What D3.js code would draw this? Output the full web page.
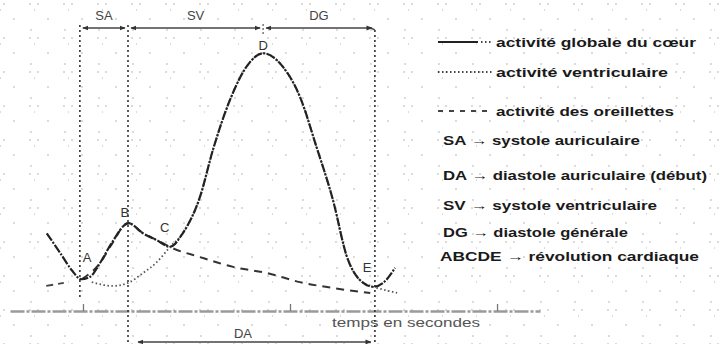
<!DOCTYPE html>
<html><head><meta charset="utf-8">
<script src="https://cdn.jsdelivr.net/npm/d3@7"></script>
<style>body{margin:0;background:#fff}svg{display:block}</style>
</head><body>
<svg id="c" width="721" height="344"></svg>
<script>
// ---------- data (time in s, pressure in arbitrary units) ----------
const globalT = [-0.070,-0.044,-0.022,-0.003,0.014,0.033,0.055,0.088,0.116,0.142,0.168,0.193,0.226,0.251,0.284,0.316,0.348,0.386,0.419,0.451,0.483,0.510,0.535,0.561,0.580,0.603];
const globalV = [30.1,22.5,15.9,12.3,13.3,18.6,26.2,34.0,30.1,27.5,24.9,30.2,44.2,62.4,81.8,94.7,99.9,94.7,83.1,63.7,43.0,21.0,12.0,9.4,10.9,16.7];

const ventT = [0.017,0.058,0.087,0.116,0.143,0.168,0.193,0.226,0.251,0.284,0.316,0.348,0.386,0.419,0.451,0.483,0.510,0.535,0.561,0.584,0.607];
const ventV = [11.2,9.7,10.9,14.7,19.0,24.8,30.2,44.2,62.4,81.8,94.7,99.9,94.7,83.1,63.7,43.0,21.0,12.0,9.4,8.1,7.0];

const atrialPrevT = [-0.071,-0.037];
const atrialPrevV = [9.7,10.9];
const atrialT = [-0.002,0.033,0.056,0.087,0.116,0.143,0.168,0.226,0.290,0.356,0.419,0.483,0.555];
const atrialV = [12.4,18.6,26.0,34.1,30.2,27.5,24.8,20.9,17.1,14.7,11.2,8.9,7.0];

const pointNames = ["A","B","C","D","E"];
const pointT = [0.008,0.081,0.158,0.348,0.549];
const pointV = [21,38.4,32.6,103,17];

const phaseTimes = [-0.006,0.087,0.348,0.564];
const topPhases = ["SA","SV","DG"];
const bottomPhase = "DA";
const tickTimes = [0,0.4,0.8];
const axisTitle = "temps en secondes";

const legendLines = ["activité globale du cœur","activité ventriculaire","activité des oreillettes"];
const legendDefs = ["SA → systole auriculaire","DA → diastole auriculaire (début)","SV → systole ventriculaire","DG → diastole générale","ABCDE → révolution cardiaque"];

// ---------- drawing ----------
const svg = d3.select("#c");
const W = 721, H = 344;
const x = d3.scaleLinear().domain([-0.141,0.883]).range([10,540]);
const y = d3.scaleLinear().domain([0,100]).range([311,53]);

const defs = svg.append("defs");
const pat = defs.append("pattern").attr("id","dots").attr("width",34).attr("height",34).attr("patternUnits","userSpaceOnUse");
[[31,30],[30,4],[4,4],[0,10],[14,19]].forEach(d=>pat.append("circle").attr("cx",d[0]).attr("cy",d[1]).attr("r",0.9).attr("fill","#c9c9c9"));
svg.append("rect").attr("width",W).attr("height",H).attr("fill","#fff");
svg.append("rect").attr("width",W).attr("height",H).attr("fill","url(#dots)");

const mk = defs.append("marker").attr("id","arr").attr("viewBox","0 0 10 10").attr("refX",9).attr("refY",5)
  .attr("markerWidth",6).attr("markerHeight",6).attr("orient","auto-start-reverse").attr("markerUnits","userSpaceOnUse");
mk.append("path").attr("d","M0,1L10,5L0,9Z").attr("fill","#333");

// axis (baseline)
const axisG = svg.append("g").attr("transform",`translate(0,${y(0)})`)
  .call(d3.axisTop(x).tickValues(tickTimes).tickSize(7).tickFormat("").tickSizeOuter(0));
axisG.select(".domain").attr("stroke","#9a9a9a").attr("stroke-width",2.4).attr("stroke-dasharray","14,2,3,2");
axisG.selectAll(".tick line").attr("stroke","#777").attr("stroke-width",1.3);
svg.append("text").attr("x",332).attr("y",327).attr("font-family","Liberation Sans, Arial, sans-serif")
  .attr("font-size",13).attr("fill","#555").attr("textLength",148).attr("lengthAdjust","spacingAndGlyphs").text(axisTitle);

// vertical phase lines
const vTop = [25,25,0,30], vBot = [297,344,0,344];
[0,1,3].forEach(i=>{
  svg.append("line").attr("x1",x(phaseTimes[i])).attr("x2",x(phaseTimes[i])).attr("y1",vTop[i]).attr("y2",vBot[i])
    .attr("stroke","#333").attr("stroke-width",1.6).attr("stroke-dasharray","2,3");
});
svg.append("line").attr("x1",x(phaseTimes[2])).attr("x2",x(phaseTimes[2])).attr("y1",24).attr("y2",34)
  .attr("stroke","#555").attr("stroke-width",1.2).attr("stroke-dasharray","2,2");
// top corner at right
svg.append("path").attr("d",`M${x(phaseTimes[3])-4},28 L${x(phaseTimes[3])},30`).attr("stroke","#555").attr("fill","none").attr("stroke-width",1.4);

// top arrows and labels
const lbl = {family:"Liberation Sans, Arial, sans-serif"};
topPhases.forEach((p,i)=>{
  const a = x(phaseTimes[i]), b = x(phaseTimes[i+1]);
  svg.append("line").attr("x1",a+3).attr("x2",b-3).attr("y1",28).attr("y2",28)
    .attr("stroke","#444").attr("stroke-width",1.5)
    .attr("marker-start","url(#arr)").attr("marker-end","url(#arr)");
  svg.append("text").attr("x",(a+b)/2+ (i===2? 0 : 0)).attr("y",20).attr("text-anchor","middle")
    .attr("font-family",lbl.family).attr("font-size",13).attr("fill","#444").text(p);
});
// bottom DA
{
  const a = x(phaseTimes[1]), b = x(phaseTimes[3]);
  svg.append("line").attr("x1",a+10).attr("x2",b-4).attr("y1",342).attr("y2",342)
    .attr("stroke","#444").attr("stroke-width",1.6)
    .attr("marker-start","url(#arr)").attr("marker-end","url(#arr)");
  svg.append("text").attr("x",243).attr("y",338).attr("text-anchor","middle")
    .attr("font-family",lbl.family).attr("font-size",13).attr("fill","#444").text(bottomPhase);
}

// curves
const line = d3.line().x(d=>x(d[0])).y(d=>y(d[1])).curve(d3.curveMonotoneX);
const zip = (a,b)=>a.map((t,i)=>[t,b[i]]);
svg.append("path").datum(zip(atrialPrevT,atrialPrevV)).attr("d",line).attr("fill","none")
  .attr("stroke","#444").attr("stroke-width",1.8).attr("stroke-dasharray","7,5");
svg.append("path").datum(zip(atrialT,atrialV)).attr("d",line).attr("fill","none")
  .attr("stroke","#333").attr("stroke-width",2).attr("stroke-dasharray","8,6");
svg.append("path").datum(zip(ventT,ventV)).attr("d",line).attr("fill","none")
  .attr("stroke","#555").attr("stroke-width",1.8).attr("stroke-dasharray","1.5,2.5");
svg.append("path").datum(zip(globalT,globalV)).attr("d",line).attr("fill","none")
  .attr("stroke","#222").attr("stroke-width",2.2).attr("stroke-dasharray","9,1.5,2,1.5");

// point letters
pointNames.forEach((n,i)=>{
  svg.append("text").attr("x",x(pointT[i])).attr("y",y(pointV[i])+5).attr("text-anchor","middle")
    .attr("font-family",lbl.family).attr("font-size",13).attr("fill","#333").text(n);
});

// legend
const legFont = "Liberation Sans, Arial, sans-serif";
const lineRows = [42,72,111];
const lineTextW = [200,172,178];
const dashes = [null,"1.5,2.5","5,6"];
legendLines.forEach((t,i)=>{
  const yy = lineRows[i];
  if(i===0){
    svg.append("line").attr("x1",438).attr("x2",478).attr("y1",yy).attr("y2",yy).attr("stroke","#222").attr("stroke-width",2);
    svg.append("line").attr("x1",481).attr("x2",493).attr("y1",yy).attr("y2",yy).attr("stroke","#444").attr("stroke-width",1.8).attr("stroke-dasharray","1.5,2.5");
  } else {
    svg.append("line").attr("x1",438).attr("x2",493).attr("y1",yy).attr("y2",yy).attr("stroke","#444").attr("stroke-width",1.8).attr("stroke-dasharray",dashes[i]);
  }
  svg.append("text").attr("x",496).attr("y",yy+5).attr("font-family",legFont).attr("font-weight","bold")
    .attr("font-size",13).attr("fill","#1a1a1a").attr("textLength",lineTextW[i]).attr("lengthAdjust","spacingAndGlyphs").text(t);
});
const defRows = [140,175,205,232,256];
const defW = [197,264,214,185,259];
const defX = [443,443,443,443,440];
legendDefs.forEach((t,i)=>{
  svg.append("text").attr("x",defX[i]).attr("y",defRows[i]+5).attr("font-family",legFont).attr("font-weight","bold")
    .attr("font-size",13).attr("fill","#1a1a1a").attr("textLength",defW[i]).attr("lengthAdjust","spacingAndGlyphs").text(t);
});
</script>
</body></html>
